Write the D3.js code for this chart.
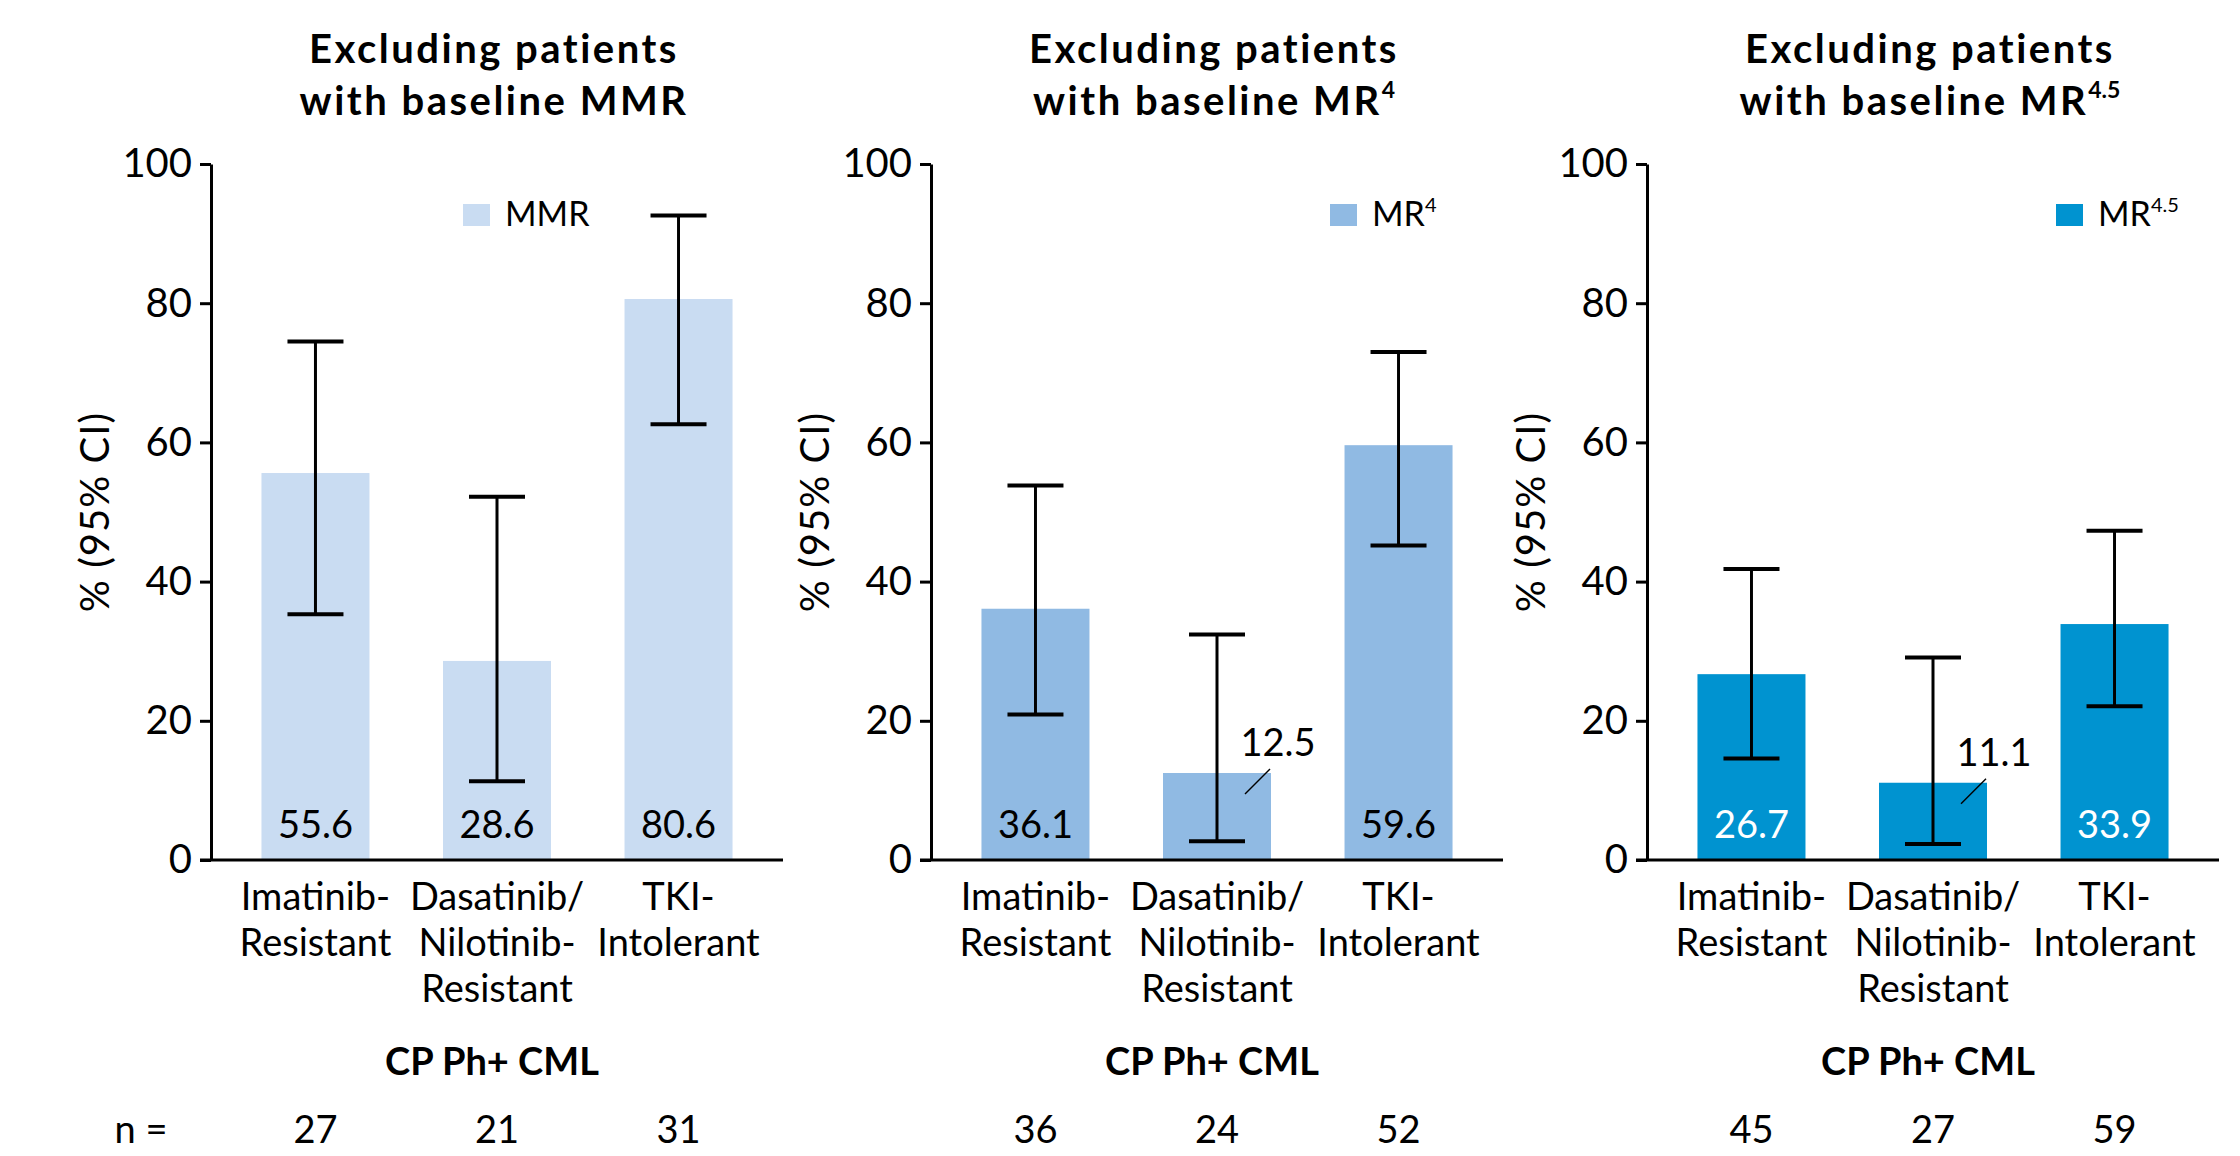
<!DOCTYPE html>
<html>
<head>
<meta charset="utf-8">
<script src="https://cdn.jsdelivr.net/npm/d3@7"></script>
<style>
  html, body { margin: 0; padding: 0; background: #fff; }
  svg { display: block; }
  text { font-family: Lato, "Liberation Sans", sans-serif; fill: #000; }
</style>
</head>
<body>
<svg id="chart" width="2240" height="1156"></svg>
<script>
// ---------------- DATA ----------------
const categories = ["Imatinib-\nResistant", "Dasatinib/\nNilotinib-\nResistant", "TKI-\nIntolerant"];
const titleLine1 = "Excluding patients";
const titleLine2 = "with baseline ";
const responseNames = ["MMR", "MR", "MR"];
const responseSups = ["", "4", "4.5"];

const mmrValues = [55.6, 28.6, 80.6];
const mmrLower  = [35.3, 11.3, 62.6];
const mmrUpper  = [74.5, 52.2, 92.6];

const mr4Values = [36.1, 12.5, 59.6];
const mr4Lower  = [20.9, 2.7, 45.2];
const mr4Upper  = [53.8, 32.4, 73.0];

const mr45Values = [26.7, 11.1, 33.9];
const mr45Lower  = [14.6, 2.3, 22.1];
const mr45Upper  = [41.8, 29.1, 47.3];

const nMMR  = [27, 21, 31];
const nMR4  = [36, 24, 52];
const nMR45 = [45, 27, 59];

const yTicks = [0, 20, 40, 60, 80, 100];
const groupLabel = "CP Ph+ CML";
const yAxisLabel = "% (95% CI)";

// ---------------- LAYOUT ----------------
const panels = [
  { x0: 211, values: mmrValues, lower: mmrLower, upper: mmrUpper, n: nMMR,  color: "#c9dcf2", labelColor: "#000", legendX: 463 },
  { x0: 931, values: mr4Values, lower: mr4Lower, upper: mr4Upper, n: nMR4,  color: "#90bae3", labelColor: "#000", legendX: 1330 },
  { x0: 1647, values: mr45Values, lower: mr45Lower, upper: mr45Upper, n: nMR45, color: "#0093d0", labelColor: "#fff", legendX: 2056 }
];
const plotW = 572;
const FS = 38;

const svg = d3.select("#chart");
const y = d3.scaleLinear().domain([0, 100]).range([860, 164]);

panels.forEach((p, pi) => {
  const g = svg.append("g");
  const x = d3.scaleBand().domain(categories).range([p.x0, p.x0 + plotW])
    .paddingInner(0.405).paddingOuter(0.278);
  const cx = c => x(c) + x.bandwidth() / 2;
  const midX = p.x0 + plotW / 2 - 3;

  // Title
  g.append("text").attr("x", midX).attr("y", 63).attr("text-anchor", "middle")
    .attr("font-size", 40).attr("font-weight", "bold").attr("letter-spacing", "2.5px")
    .text(titleLine1);
  const t2 = g.append("text").attr("x", midX).attr("y", 115).attr("text-anchor", "middle")
    .attr("font-size", 40).attr("font-weight", "bold").attr("letter-spacing", "2.5px");
  t2.append("tspan").text(titleLine2 + responseNames[pi]);
  if (responseSups[pi]) {
    t2.append("tspan").attr("font-size", 23).attr("dy", -17).attr("letter-spacing", "0px").text(responseSups[pi]);
  }

  // Y axis
  const yAxis = d3.axisLeft(y).tickValues(yTicks).tickSize(11).tickSizeOuter(0).tickPadding(8);
  const ya = g.append("g").attr("transform", `translate(${p.x0},0)`).call(yAxis);
  ya.select(".domain").attr("stroke", "#000").attr("stroke-width", 3);
  ya.selectAll(".tick line").attr("stroke", "#000").attr("stroke-width", 3);
  ya.selectAll(".tick text").attr("font-size", 40).attr("fill", "#000")
    .style("font-family", 'Lato, "Liberation Sans", sans-serif');

  // Y label
  g.append("text")
    .attr("transform", `translate(${p.x0 - 102},${(y(0) + y(100)) / 2}) rotate(-90)`)
    .attr("text-anchor", "middle").attr("font-size", 40).attr("letter-spacing", "1px")
    .text(yAxisLabel);

  // Bars
  g.selectAll("rect.bar").data(categories).enter().append("rect")
    .attr("x", c => x(c)).attr("width", x.bandwidth())
    .attr("y", (c, i) => y(p.values[i])).attr("height", (c, i) => y(0) - y(p.values[i]))
    .attr("fill", p.color);

  // X axis line
  g.append("line").attr("x1", p.x0 - 11).attr("x2", p.x0 + plotW)
    .attr("y1", y(0)).attr("y2", y(0)).attr("stroke", "#000").attr("stroke-width", 3);

  // Error bars
  const capW = 56;
  categories.forEach((c, i) => {
    const xc = cx(c);
    g.append("line").attr("x1", xc).attr("x2", xc).attr("y1", y(p.upper[i])).attr("y2", y(p.lower[i]))
      .attr("stroke", "#000").attr("stroke-width", 3);
    [p.upper[i], p.lower[i]].forEach(v => {
      g.append("line").attr("x1", xc - capW / 2).attr("x2", xc + capW / 2)
        .attr("y1", y(v)).attr("y2", y(v)).attr("stroke", "#000").attr("stroke-width", 4);
    });
    // value labels
    const v = p.values[i];
    if (v >= 20) {
      g.append("text").attr("x", xc).attr("y", 838).attr("text-anchor", "middle")
        .attr("font-size", FS).style("fill", p.labelColor).text(v.toFixed(1));
    } else {
      g.append("line").attr("x1", xc + 28).attr("x2", xc + 53)
        .attr("y1", y(v) + 21).attr("y2", y(v) - 4).attr("stroke", "#000").attr("stroke-width", 1.5);
      g.append("text").attr("x", xc + 61).attr("y", y(v) - 17).attr("text-anchor", "middle")
        .attr("font-size", FS).text(v.toFixed(1));
    }
    // category labels
    c.split("\n").forEach((line, li) => {
      g.append("text").attr("x", xc).attr("y", 910 + li * 46).attr("text-anchor", "middle")
        .attr("font-size", FS).text(line);
    });
    // n values
    g.append("text").attr("x", xc).attr("y", 1143).attr("text-anchor", "middle")
      .attr("font-size", FS).text(p.n[i]);
  });

  // Group label
  g.append("text").attr("x", cx(categories[1]) - 5).attr("y", 1075).attr("text-anchor", "middle")
    .attr("font-size", 38).attr("font-weight", "bold").text(groupLabel);

  // Legend
  g.append("rect").attr("x", p.legendX).attr("y", 204).attr("width", 27).attr("height", 22).attr("fill", p.color);
  const lt = g.append("text").attr("x", p.legendX + 42).attr("y", 226).attr("font-size", 34);
  lt.append("tspan").text(responseNames[pi]);
  if (responseSups[pi]) {
    lt.append("tspan").attr("font-size", 20).attr("dy", -14).text(responseSups[pi]);
  }
});

// "n =" label
svg.append("text").attr("x", 141).attr("y", 1143).attr("text-anchor", "middle")
  .attr("font-size", FS).text("n =");
</script>
</body>
</html>
